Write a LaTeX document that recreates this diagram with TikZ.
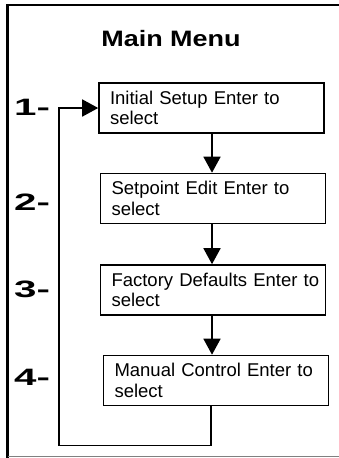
\documentclass[tikz,border=0pt]{standalone}
\usepackage{fontspec}
\setmainfont{Liberation Sans}
\usetikzlibrary{arrows.meta}
\begin{document}
\begin{tikzpicture}[x=1pt,y=-1pt,
  menubox/.style={draw, line width=1.6pt, minimum width=225pt, minimum height=50pt,
    text width=203pt, inner xsep=11pt, align=left,
    font=\fontsize{18.5}{20.7}\selectfont},
  flow/.style={line width=1.6pt, -{Triangle[length=16pt,width=17pt]}},
  numlabel/.style={anchor=base west, inner sep=0pt,
    font=\fontsize{23.7}{26}\selectfont\bfseries},
  titlestyle/.style={anchor=base, inner sep=0pt,
    font=\fontsize{22.3}{26}\selectfont\bfseries}]
\useasboundingbox (0,0) rectangle (338,458);
% frame
\draw[line width=2.4pt] (340,5) -- (7.5,5) -- (7.5,457.5);
\draw[gray, line width=1pt] (7.5,456.8) -- (340,456.8);
% title
\node[titlestyle] (title) at (171,46) {\scalebox{1.21}[1]{Main Menu}};
% boxes
\node[menubox] (b1) at (211.5,108) {\mbox{Initial Setup Enter to}\\select};
\node[menubox] (b2) at (213,198.5) {\mbox{Setpoint Edit Enter to}\\select};
\node[menubox] (b3) at (213,290) {\mbox{Factory Defaults Enter to}\\select};
\node[menubox] (b4) at (216,380.5) {\mbox{Manual Control Enter to}\\select};
% labels
\node[numlabel] (n1) at (14,115) {\scalebox{1.7}[1]{1-}};
\node[numlabel] (n2) at (14,210) {\scalebox{1.7}[1]{2-}};
\node[numlabel] (n3) at (14,297) {\scalebox{1.7}[1]{3-}};
\node[numlabel] (n4) at (14,385) {\scalebox{1.7}[1]{4-}};
% arrows
\draw[flow] ([xshift=0.5pt]b1.south) -- ([xshift=-1pt]b2.north);
\draw[flow] ([xshift=-1pt]b2.south) -- ([xshift=-1pt]b3.north);
\draw[flow] ([xshift=-1pt]b3.south) -- ([xshift=-4pt]b4.north);
\coordinate (lb) at (59,445.5);
\draw[flow] ([xshift=-5pt]b4.south) |- (lb) |- (b1.west);
\end{tikzpicture}
\end{document}
